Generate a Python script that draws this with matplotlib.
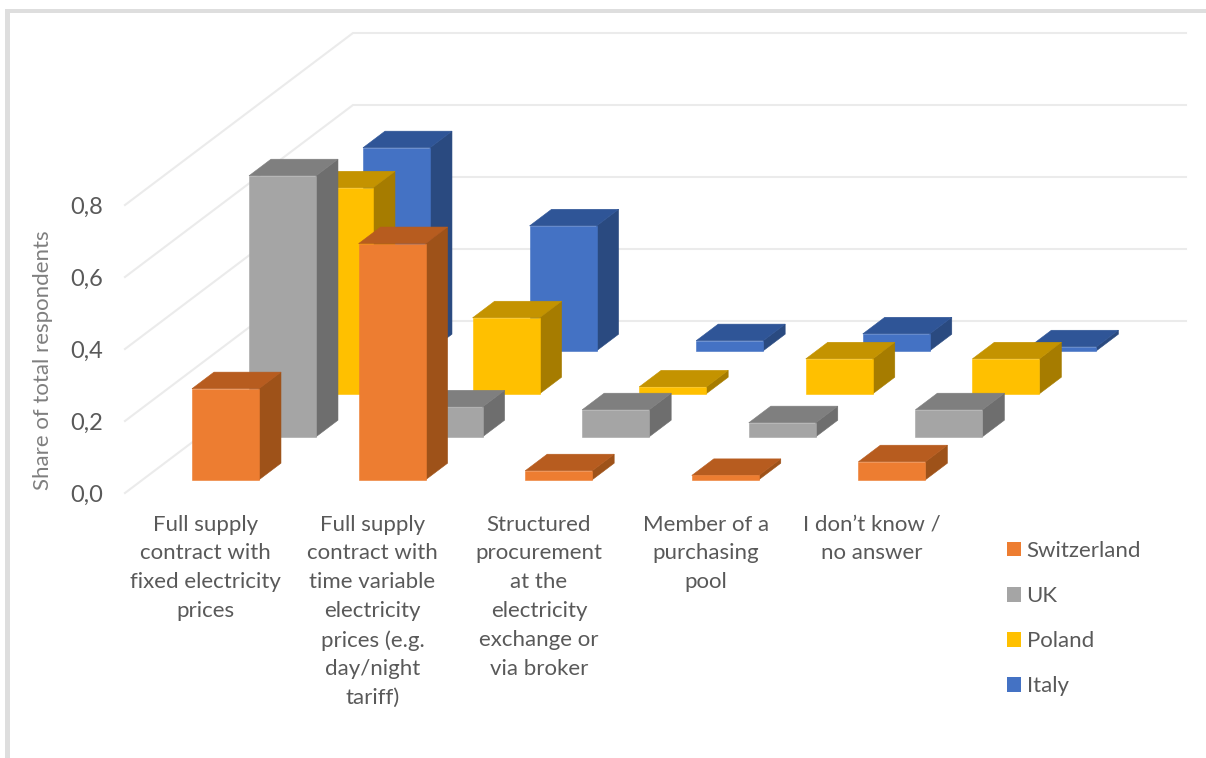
import numpy as np
import matplotlib.pyplot as plt
from matplotlib.patches import Patch, Rectangle

plt.rcParams['font.family'] = ['Lato', 'DejaVu Sans']

categories = ['Full supply\ncontract with\nfixed electricity\nprices',
              'Full supply\ncontract with\ntime variable\nelectricity\nprices (e.g.\nday/night\ntariff)',
              'Structured\nprocurement\nat the\nelectricity\nexchange or\nvia broker',
              'Member of a\npurchasing\npool',
              'I don\u2019t know /\nno answer']
countries = ['Switzerland', 'UK', 'Poland', 'Italy']

switzerland = [0.253, 0.656, 0.025, 0.012, 0.050]
uk = [0.725, 0.083, 0.075, 0.039, 0.075]
poland = [0.572, 0.211, 0.019, 0.097, 0.097]
italy = [0.564, 0.347, 0.028, 0.047, 0.011]

front = ['#ED7D31', '#A5A5A5', '#FFC000', '#4472C4']
side = ['#9E5219', '#6E6E6E', '#A67C00', '#2A4A80']
top = ['#B75C1F', '#7F7F7F', '#C49300', '#2F5597']

TEXT = '#595959'
GRID = '#EBEBEB'

# oblique projection: one step back along the depth axis, in data units
DX = 57 / 166.6
DY = 43 / 360
BAR_W = 67 / 166.6
BAR_D = 0.386


def project(x, depth, v):
    return x + depth * DX, v + depth * DY


def draw_bar(ax, x, depth, v, i):
    x0, y0 = project(x, depth, 0)
    x1 = x0 + BAR_W
    y1 = y0 + v
    dx = BAR_D * DX
    dy = BAR_D * DY
    ax.fill([x1, x1 + dx, x1 + dx, x1], [y0, y0 + dy, y1 + dy, y1],
            fc=side[i], ec=side[i], lw=0.4, clip_on=False)
    ax.fill([x0, x1, x1 + dx, x0 + dx], [y1, y1, y1 + dy, y1 + dy],
            fc=top[i], ec=top[i], lw=0.4, clip_on=False)
    ax.fill([x0, x1, x1, x0], [y0, y0, y1, y1],
            fc=front[i], ec=front[i], lw=0.4, clip_on=False)


fig = plt.figure(figsize=(12.06, 7.58), dpi=100)
ax = fig.add_axes([125 / 1206, 265 / 758, 833 / 1206, 288 / 758])
ax.set_xlim(0, 5)
ax.set_ylim(0, 0.8)
for s in ax.spines.values():
    s.set_visible(False)

# page frame
fig.add_artist(Rectangle((5 / 1206, 0), 4.5 / 1206, 749 / 758, color='#DEDEDE', lw=0))
fig.add_artist(Rectangle((5 / 1206, 745.5 / 758), 1201 / 1206, 3.5 / 758, color='#DEDEDE', lw=0))

# side wall and back wall gridlines
yticks = [0, 0.2, 0.4, 0.6, 0.8]
for v in yticks:
    bx, by = project(0, 4, v)
    ax.plot([0, bx, 5 + 4 * DX], [v, by, by], color=GRID, lw=1.5, zorder=0.5,
            clip_on=False, solid_joinstyle='miter')

series = [switzerland, uk, poland, italy]
for i in range(3, -1, -1):
    for c in range(5):
        draw_bar(ax, c + 0.297, i + (1 - BAR_D) / 2, series[i][c], i)

ax.set_yticks(yticks)
ax.set_yticklabels(['0,0', '0,2', '0,4', '0,6', '0,8'])
ax.set_xticks(np.arange(5) + 0.485)
ax.set_xticklabels(categories, linespacing=1.55)
ax.tick_params(axis='y', length=0, pad=15.5, labelsize=17, labelcolor=TEXT)
ax.tick_params(axis='x', length=0, pad=15.5, labelsize=16, labelcolor=TEXT)
for t in ax.get_xticklabels():
    t.set_verticalalignment('top')

fig.text(43 / 1206, 1 - 360 / 758, 'Share of total respondents', rotation=90,
         ha='center', va='center', fontsize=16, color='#7F7F7F')

handles = [Patch(color=front[i], lw=0) for i in range(4)]
ax.legend(handles, countries, frameon=False, fontsize=16, labelcolor=TEXT,
          loc='upper left', bbox_to_anchor=(1007 / 1206, 1 - 541 / 758),
          bbox_transform=fig.transFigure, handlelength=0.63, handleheight=0.63,
          handletextpad=0.25, labelspacing=1.13, borderpad=0, borderaxespad=0)

plt.savefig('out.png', dpi=100)
